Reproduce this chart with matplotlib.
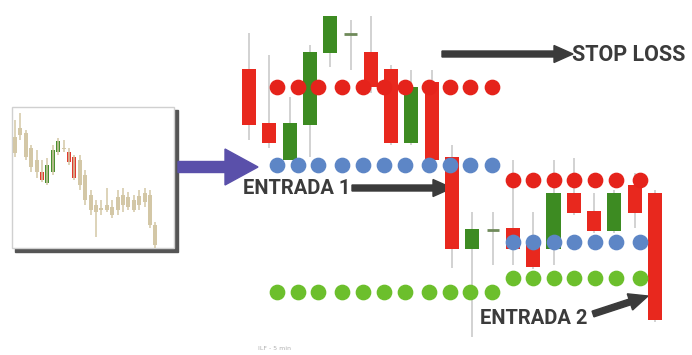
import numpy as np
import matplotlib.pyplot as plt
from matplotlib.patches import Rectangle, FancyArrow

# main candles (price units), colour per candle
main_open  = [286, 232, 195, 230, 302, 321, 303, 286, 212, 273, 198, 106, 125, 127, 110, 106, 162, 144, 124, 170, 162]
main_close = [230, 212, 232, 303, 339, 320, 268, 212, 268, 195, 106, 126, 124, 106,  88, 162, 142, 124, 162, 142,  35]
main_high  = [322, 300, 258, 310, 339, 335, 339, 290, 285, 285, 210, 143, 143, 195, 143, 195, 197, 162, 165, 182, 165]
main_low   = [215, 207, 195, 198, 288, 285, 262, 210, 210, 193,  87,  18,  90,  90,  86,  90, 140, 122, 122, 127,  33]

# dotted levels
left_dots_x = [1.4, 2.4, 3.4, 4.6, 5.6, 6.65, 7.7, 8.85, 9.9, 10.9, 11.95]
right_dots_x = [13.0, 14.0, 15.0, 16.0, 17.05, 18.1, 19.25]
stop_level_1, entry_level_1, target_level_1 = 268, 190, 63
stop_level_2, entry_level_2, target_level_2 = 175, 113, 77

# small chart in the box
mini_top    = [118, 127, 122, 107,  95,  83,  90, 105, 114, 107, 103,  98,  95,  80,  60,  50,  47,  50,  48,  58,  60,  58,  55,  59,  62,  60,  30]
mini_bottom = [102, 120,  98,  88,  83,  75,  72,  83, 103, 106,  93,  77,  70,  55,  45,  43,  45,  45,  40,  45,  50,  48,  45,  50,  53,  30,  10]
mini_high   = [135, 142, 125, 110, 105,  95,  97, 110, 117, 115, 107, 100, 100,  85,  65,  55,  55,  67,  55,  65,  67,  63,  60,  65,  67,  65,  33]
mini_low    = [ 98, 115,  95,  83,  77,  73,  70,  80, 100, 103,  90,  75,  65,  50,  40,  18,  40,  43,  37,  40,  43,  45,  43,  45,  48,  27,   7]
mini_kind   = ['n', 'n', 'n', 'n', 'n', 'r', 'g', 'g', 'g', 'n', 'r', 'r', 'n', 'n', 'n', 'n', 'n', 'n', 'n', 'n', 'n', 'n', 'n', 'n', 'n', 'n', 'n']

RED = '#e8281e'
GREEN = '#3d8b22'
BEIGE = '#d3c7a6'
kind_color = {'r': '#e03a2e', 'g': '#4a9030', 'n': BEIGE}

fig = plt.figure(figsize=(6.92, 3.55), dpi=100)
fig.patch.set_facecolor('white')

# overlay in pixel units for arrows, labels, box shadow
ov = fig.add_axes([0, 0, 1, 1])
ov.set_xlim(0, 692)
ov.set_ylim(355, 0)
ov.axis('off')

# main chart
ax = fig.add_axes([0, 0, 1, 1])
ax.set_xlim(-249 / 20.3, (692 - 249) / 20.3)
ax.set_ylim(0, 355)
ax.axis('off')
ax.patch.set_alpha(0)

idx = np.arange(len(main_open))
for i in idx:
    o, c = main_open[i], main_close[i]
    col = GREEN if c > o else RED
    ax.vlines(i, main_low[i], main_high[i], color='#cfcfcf', lw=1.3, zorder=1)
    if abs(c - o) < 3:
        ax.hlines(o, i - 0.3, i + 0.3, color='#6f8a5a', lw=2, zorder=2)
    else:
        ax.bar(i, abs(c - o), bottom=min(o, c), width=0.69, color=col, zorder=2)

for xs, levels in [(left_dots_x, [(stop_level_1, '#e5231b'), (entry_level_1, '#5d86c6'), (target_level_1, '#6cbf2c')]),
                   (right_dots_x, [(stop_level_2, '#e5231b'), (entry_level_2, '#5d86c6'), (target_level_2, '#6cbf2c')])]:
    for lvl, col in levels:
        ax.plot(xs, [lvl] * len(xs), 'o', ms=10.3, color=col, mec=col, zorder=4)

# box with the small chart
ov.add_patch(Rectangle((15, 110), 163, 142, color='#555555', zorder=0))
ov.add_patch(Rectangle((12, 107), 162, 141, facecolor='white', edgecolor='#d0d0d0', lw=1, zorder=1))
mini = fig.add_axes([12 / 692, (355 - 248) / 355, 161 / 692, 141 / 355])
mini.set_xlim(-0.56, 29.26)
mini.set_ylim(7, 148)
mini.axis('off')
mini.patch.set_alpha(0)
for i in range(len(mini_top)):
    col = kind_color[mini_kind[i]]
    mini.vlines(i, mini_low[i], mini_high[i], color=BEIGE, lw=1.1)
    mini.bar(i, mini_top[i] - mini_bottom[i], bottom=mini_bottom[i], width=0.75, color=col)

# arrows
ov.add_patch(FancyArrow(178, 167, 80, 0, width=11, head_width=36, head_length=33,
                        length_includes_head=True, color='#5a50aa', zorder=3))
dark = '#3b3b3b'
for (x0, y0, x1, y1) in [(442, 54, 573, 54), (352, 188, 452, 188), (593, 314, 648, 296)]:
    ov.add_patch(FancyArrow(x0, y0, x1 - x0, y1 - y0, width=6, head_width=17, head_length=19,
                            length_includes_head=True, color=dark, zorder=3))

lab = dict(color=dark, fontweight='bold', family=['Roboto', 'DejaVu Sans'],
           va='center', ha='left')
ov.text(572, 55, 'STOP LOSS', fontsize=15.5, **lab)
ov.text(243, 189, 'ENTRADA 1', fontsize=14.5, **lab)
ov.text(480, 318, 'ENTRADA 2', fontsize=14.5, **lab)
ov.text(258, 349, 'ILF - 5 min', color='#b0b0b0', fontsize=4.5, va='center')

fig.savefig('out.png', dpi=100)
